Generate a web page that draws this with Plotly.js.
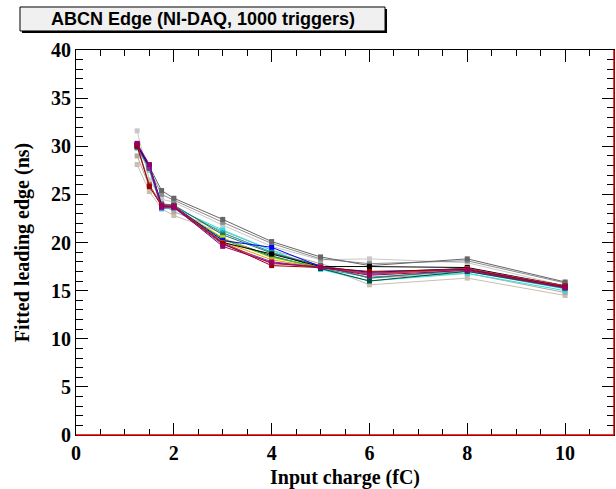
<!DOCTYPE html>
<html>
<head>
<meta charset="utf-8">
<script src="https://cdn.plot.ly/plotly-3.0.1.min.js"></script>
<style>html,body{margin:0;padding:0;background:#fff;}#chart{width:616px;height:489px;}</style>
</head>
<body>
<div id="chart"></div>
<script>
// Input charge values (fC)
const charges = [1.25, 1.5, 1.75, 2, 3, 4, 5, 6, 8, 10];

// Fitted leading edge per channel (ns)
const chGrayDark  = [30.0, 27.9, 25.4, 24.6, 22.4, 20.1, 18.5, 17.6, 18.3, 15.9];
const chGray      = [30.2, 27.6, 25.0, 24.4, 22.1, 19.9, 18.3, 17.8, 18.1, 15.8];
const chGrayLight = [31.6, 26.5, 24.5, 24.2, 21.8, 19.6, 18.2, 18.3, 17.9, 15.5];
const chTan       = [28.1, 25.3, 23.5, 22.8, 21.0, 19.0, 17.6, 15.6, 16.3, 14.5];
const chTan2      = [29.0, 25.8, 24.0, 23.2, 21.2, 19.2, 17.8, 16.3, 16.8, 14.8];
const chCyan      = [29.8, 27.5, 23.5, 23.6, 21.3, 19.2, 17.2, 16.0, 16.8, 15.0];
const chTeal      = [30.0, 27.8, 23.8, 23.8, 21.0, 19.0, 17.3, 16.4, 17.0, 15.2];
const chSlate     = [30.0, 28.0, 24.0, 23.9, 20.8, 18.9, 17.6, 16.3, 17.2, 15.3];
const chDarkGreen = [30.1, 27.9, 23.7, 23.7, 20.4, 18.6, 17.3, 16.0, 17.0, 15.3];
const chYellow    = [30.0, 27.6, 23.8, 23.7, 20.5, 18.4, 17.5, 16.9, 17.3, 15.4];
const chGreen     = [30.0, 27.7, 23.8, 23.7, 20.3, 18.5, 17.4, 16.8, 17.3, 15.4];
const chOrange    = [30.0, 27.8, 23.9, 23.8, 20.1, 18.2, 17.4, 16.7, 17.2, 15.4];
const chBlack     = [30.1, 27.8, 23.8, 23.8, 20.0, 18.8, 17.5, 17.5, 17.4, 15.5];
const chBlue      = [30.2, 28.0, 23.9, 23.8, 20.2, 19.5, 17.5, 16.9, 17.3, 15.4];
const chPurple    = [29.9, 27.7, 23.6, 23.6, 19.8, 18.0, 17.4, 16.8, 17.2, 15.3];
const chRed       = [30.1, 26.0, 23.9, 23.8, 20.0, 17.8, 17.5, 16.7, 17.3, 15.5];
const chDarkRed   = [30.0, 25.8, 23.8, 23.7, 19.9, 17.6, 17.4, 17.0, 17.2, 15.4];
const chMagenta   = [30.3, 28.1, 23.7, 23.7, 19.6, 17.9, 17.4, 16.6, 17.1, 15.3];

const seriesList = [
  [chGrayLight, '#c8c8c8'],
  [chTan, '#c9bfb0'],
  [chTan2, '#b5a898'],
  [chGray, '#8c8c8c'],
  [chGrayDark, '#666666'],
  [chCyan, '#22e5e5'],
  [chTeal, '#1aa5a5'],
  [chSlate, '#2f6f6f'],
  [chDarkGreen, '#064a3a'],
  [chYellow, '#d8d800'],
  [chGreen, '#33bb33'],
  [chOrange, '#ff9900'],
  [chBlack, '#000000'],
  [chBlue, '#0000ff'],
  [chPurple, '#6633cc'],
  [chRed, '#cc3333'],
  [chDarkRed, '#990000'],
  [chMagenta, '#990066']
];

const traces = seriesList.map(([vals, col]) => ({
  x: charges, y: vals, type: 'scatter', mode: 'lines+markers',
  line: {color: col, width: 1},
  marker: {color: col, symbol: 'square', size: 5},
  showlegend: false, hoverinfo: 'skip'
}));

const tickFont = {family: 'Liberation Serif', size: 20, color: '#000', weight: 'bold'};
const titleFont = {family: 'Liberation Serif', size: 20, color: '#000', weight: 'bold'};

const layout = {
  width: 616, height: 489,
  margin: {l: 76, r: 2, t: 50, b: 54},
  paper_bgcolor: '#fff', plot_bgcolor: '#fff',
  xaxis: {
    range: [0, 11], tickvals: [0, 2, 4, 6, 8, 10],
    ticks: 'inside', ticklen: 12, tickcolor: '#000', tickwidth: 1,
    minor: {dtick: 0.5, tick0: 0, ticks: 'inside', ticklen: 6, tickcolor: '#000', showgrid: false},
    showline: true, linecolor: '#000', linewidth: 1, mirror: 'allticks',
    showgrid: false, zeroline: false,
    tickfont: tickFont,
    title: {text: 'Input charge (fC)', font: titleFont, standoff: 7}
  },
  yaxis: {
    range: [0, 40], tickvals: [0, 5, 10, 15, 20, 25, 30, 35, 40],
    ticks: 'inside', ticklen: 12, tickcolor: '#000', tickwidth: 1,
    minor: {dtick: 1, tick0: 0, ticks: 'inside', ticklen: 7, tickcolor: '#000', showgrid: false},
    showline: true, linecolor: '#000', linewidth: 1, mirror: 'allticks',
    showgrid: false, zeroline: false,
    tickfont: tickFont,
    title: {text: 'Fitted leading edge (ns)', font: titleFont, standoff: 16}
  },
  shapes: [
    {type: 'line', xref: 'paper', yref: 'paper', x0: 0, x1: 1, y0: 0, y1: 0, line: {color: '#dd0000', width: 1.5}},
    {type: 'line', xref: 'paper', yref: 'paper', x0: 1, x1: 1, y0: 0, y1: 1, line: {color: '#dd0000', width: 1.5}},
    {type: 'rect', xref: 'paper', yref: 'paper', x0: -0.1003, x1: 0.5781, y0: 1.044, y1: 1.1065, fillcolor: '#000', line: {width: 0}},
    {type: 'rect', xref: 'paper', yref: 'paper', x0: -0.1041, x1: 0.5744, y0: 1.0494, y1: 1.1117, fillcolor: '#f0f0f0', line: {color: '#000', width: 1}}
  ],
  annotations: [
    {xref: 'paper', yref: 'paper', x: 0.2352, y: 1.0805, xanchor: 'center', yanchor: 'middle',
     text: 'ABCN Edge (NI-DAQ, 1000 triggers)', showarrow: false,
     font: {family: 'Liberation Sans', size: 18, color: '#000', weight: 'bold'}}
  ]
};

Plotly.newPlot('chart', traces, layout, {displayModeBar: false, staticPlot: true});
</script>
</body>
</html>
